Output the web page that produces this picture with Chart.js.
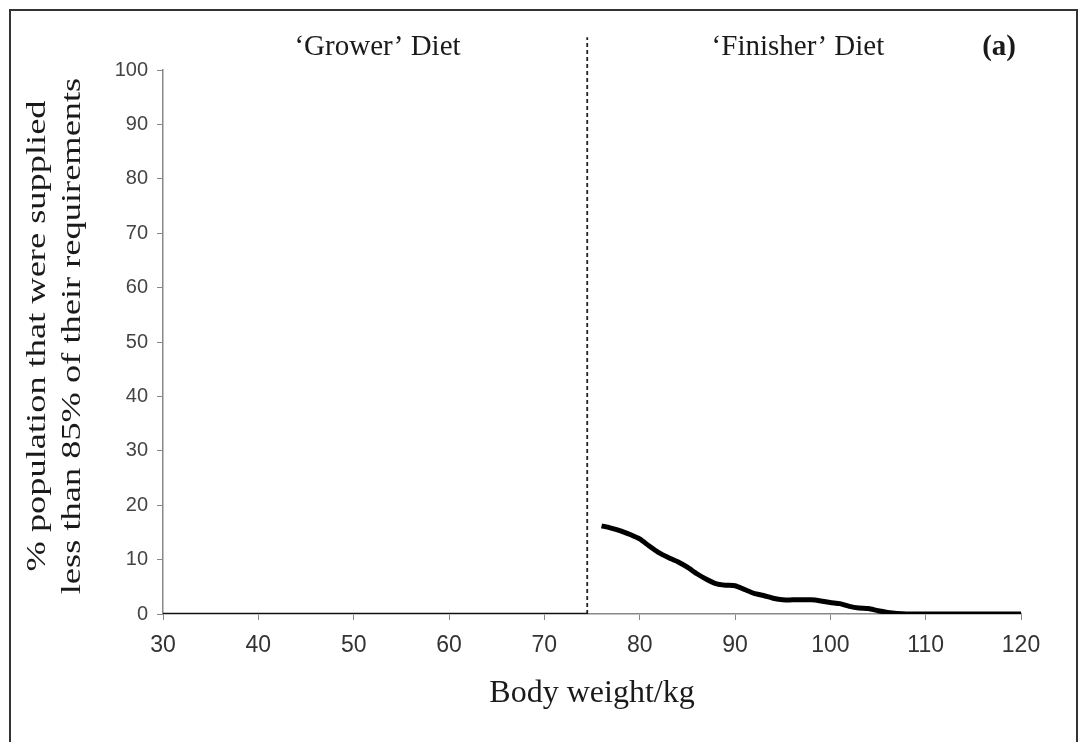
<!DOCTYPE html>
<html>
<head>
<meta charset="utf-8">
<script src="https://cdn.jsdelivr.net/npm/chart.js@4/dist/chart.umd.min.js"></script>
<style>
  html, body { margin: 0; padding: 0; background: #fff; }
  #wrap { width: 1082px; height: 742px; }
</style>
</head>
<body>
<div id="wrap"><canvas id="chart" width="1082" height="742"></canvas></div>
<script>
// body weight (kg) and % of the population below 85% of requirement
const growerWeights = [30, 35, 40, 45, 50, 55, 60, 65, 70, 74.5];
const growerValues  = [0, 0, 0, 0, 0, 0, 0, 0, 0, 0];

const finisherWeights = [76, 77, 78, 79, 80, 81, 82, 83, 84, 85, 86, 87, 88, 89, 90,
  91, 92, 93, 94, 95, 96, 97, 98, 99, 100, 101, 102, 103, 104, 105, 106, 107, 108,
  110, 112, 114, 116, 118, 120];
const finisherValues = [16.2, 15.8, 15.3, 14.6, 13.8, 12.5, 11.3, 10.4, 9.6, 8.6, 7.4,
  6.4, 5.6, 5.3, 5.2, 4.5, 3.8, 3.4, 2.9, 2.6, 2.6, 2.6, 2.6, 2.4, 2.1, 1.9, 1.4, 1.1,
  1.0, 0.6, 0.3, 0.1, 0, 0, 0, 0, 0, 0, 0];

// diet switch point
const switchWeight = 74.5;
const switchSpan = [0, 106];

const xTicks = [30, 40, 50, 60, 70, 80, 90, 100, 110, 120];
const yTicks = [0, 10, 20, 30, 40, 50, 60, 70, 80, 90, 100];

const dietLabels = [
  { text: '\u2018Grower\u2019 Diet', x: 52.5, y: 104.2, bold: false },
  { text: '\u2018Finisher\u2019 Diet', x: 96.6, y: 104.2, bold: false },
  { text: '(a)', x: 117.7, y: 104.2, bold: true },
];

const yTitleLines = ['% population that were supplied', 'less than 85% of their requirements'];

const serif = '"Liberation Serif", "DejaVu Serif", serif';
const narrow = '"Liberation Sans Narrow", "Liberation Sans", sans-serif';
const sans = '"Liberation Sans", "DejaVu Sans", sans-serif';

const pts = (xs, ys) => xs.map((x, i) => ({ x, y: ys[i] }));

const framePlugin = {
  id: 'frame',
  beforeDraw(chart) {
    const ctx = chart.ctx;
    ctx.save();
    ctx.fillStyle = '#fff';
    ctx.fillRect(0, 0, chart.width, chart.height);
    ctx.strokeStyle = '#333';
    ctx.lineWidth = 2;
    ctx.strokeRect(10, 10, 1067, 800);
    ctx.restore();
  },
};

const textPlugin = {
  id: 'extraText',
  afterDraw(chart) {
    const { ctx, chartArea, scales: { x, y } } = chart;
    ctx.save();
    ctx.fillStyle = '#1a1a1a';
    ctx.textAlign = 'center';
    ctx.textBaseline = 'middle';
    dietLabels.forEach(l => {
      ctx.font = (l.bold ? 'bold ' : '') + '29px ' + serif;
      ctx.fillText(l.text, x.getPixelForValue(l.x), y.getPixelForValue(l.y));
    });

    // rotated two-line y title, slightly stretched along its length
    const cy = (chartArea.top + chartArea.bottom) / 2 - 6;
    ctx.font = '28px ' + serif;
    [38, 73].forEach((cx, i) => {
      ctx.save();
      ctx.translate(cx, cy);
      ctx.rotate(-Math.PI / 2);
      ctx.scale(1.3, 1);
      ctx.fillText(yTitleLines[i], 0, 0);
      ctx.restore();
    });
    ctx.restore();
  },
};

new Chart(document.getElementById('chart'), {
  type: 'scatter',
  data: {
    datasets: [
      {
        label: 'Grower',
        data: pts(growerWeights, growerValues),
        showLine: true,
        borderColor: '#111',
        borderWidth: 2.5,
        pointRadius: 0,
      },
      {
        label: 'Finisher',
        data: pts(finisherWeights, finisherValues),
        showLine: true,
        borderColor: '#000',
        borderWidth: 5,
        pointRadius: 0,
        tension: 0.2,
      },
      {
        label: 'Switch',
        data: switchSpan.map(v => ({ x: switchWeight, y: v })),
        showLine: true,
        borderColor: '#222',
        borderWidth: 1.8,
        borderDash: [4, 3],
        pointRadius: 0,
        clip: false,
      },
    ],
  },
  options: {
    responsive: false,
    animation: false,
    layout: { padding: { top: 70, right: 61, left: 0, bottom: 0 } },
    plugins: { legend: { display: false }, tooltip: { enabled: false } },
    scales: {
      x: {
        type: 'linear',
        min: 30, max: 120,
        afterBuildTicks: s => { s.ticks = xTicks.map(v => ({ value: v })); },
        afterFit: s => { s.height = 128; },
        grid: { drawOnChartArea: false, drawTicks: true, tickLength: 6, color: '#888' },
        border: { color: '#888', width: 1.5 },
        ticks: { color: '#333', font: { family: sans, size: 23 }, padding: 12, maxRotation: 0 },
        title: {
          display: true,
          text: 'Body weight/kg',
          color: '#1a1a1a',
          font: { family: serif, size: 32 },
          padding: { top: 0, bottom: 29 },
        },
      },
      y: {
        min: 0, max: 100,
        afterBuildTicks: s => { s.ticks = yTicks.map(v => ({ value: v })); },
        afterFit: s => { s.width = 163; },
        grid: { drawOnChartArea: false, drawTicks: true, tickLength: 6, color: '#888' },
        border: { color: '#888', width: 1.5 },
        ticks: { color: '#444', font: { family: narrow, size: 20 }, padding: 9 },
      },
    },
  },
  plugins: [framePlugin, textPlugin],
});
</script>
</body>
</html>
